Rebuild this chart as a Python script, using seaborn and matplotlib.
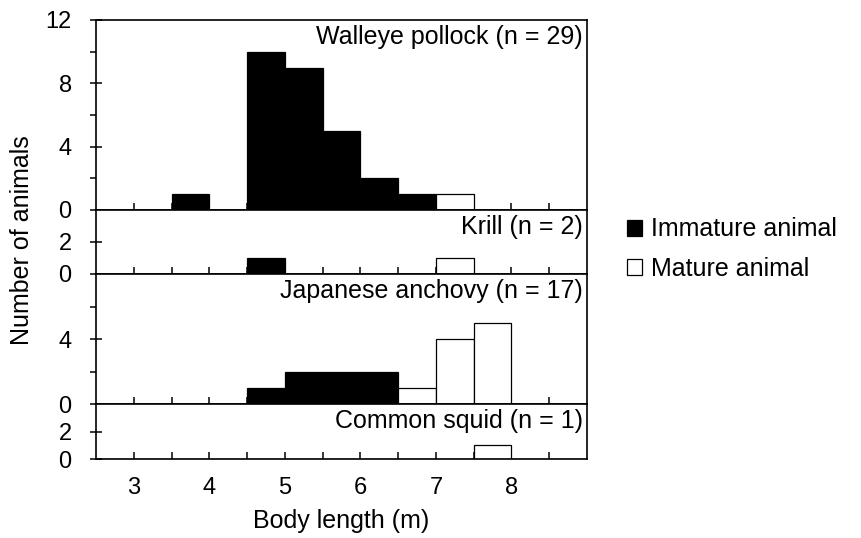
import numpy as np
import pandas as pd
import matplotlib
matplotlib.use('Agg')
import matplotlib.pyplot as plt
from matplotlib.patches import Patch
from matplotlib.ticker import FixedLocator
import seaborn as sns

# Data: bin centres (m) and counts, per species and maturity stage
species = ['Walleye pollock (n = 29)', 'Krill (n = 2)',
           'Japanese anchovy (n = 17)', 'Common squid (n = 1)']

pollock_imm_len = [3.75, 4.75, 5.25, 5.75, 6.25, 6.75]
pollock_imm_n = [1, 10, 9, 5, 2, 1]
pollock_mat_len = [7.25]
pollock_mat_n = [1]

krill_imm_len = [4.75]
krill_imm_n = [1]
krill_mat_len = [7.25]
krill_mat_n = [1]

anchovy_imm_len = [4.75, 5.25, 5.75, 6.25]
anchovy_imm_n = [1, 2, 2, 2]
anchovy_mat_len = [6.75, 7.25, 7.75]
anchovy_mat_n = [1, 4, 5]

squid_imm_len = []
squid_imm_n = []
squid_mat_len = [7.75]
squid_mat_n = [1]

stages = ['Immature animal', 'Mature animal']
stage_colors = {'Immature animal': 'black', 'Mature animal': 'white'}

rows = []
groups = [
    (species[0], pollock_imm_len, pollock_imm_n, pollock_mat_len, pollock_mat_n),
    (species[1], krill_imm_len, krill_imm_n, krill_mat_len, krill_mat_n),
    (species[2], anchovy_imm_len, anchovy_imm_n, anchovy_mat_len, anchovy_mat_n),
    (species[3], squid_imm_len, squid_imm_n, squid_mat_len, squid_mat_n),
]
for sp, il, inn, ml, mn in groups:
    for x, n in zip(il, inn):
        rows.append((sp, x, n, stages[0]))
    for x, n in zip(ml, mn):
        rows.append((sp, x, n, stages[1]))
df = pd.DataFrame(rows, columns=['species', 'length', 'count', 'stage'])

# panel y ranges and ticks
ylims = [12, 4, 8, 4]
major_ticks = [[0, 4, 8, 12], [0, 2], [0, 4], [0, 2]]
minor_ticks = [[2, 6, 10], [], [2, 6], []]

sns.set_style('ticks')
plt.rcParams['font.family'] = ['Liberation Sans', 'DejaVu Sans']
for k in ['text.color', 'axes.labelcolor', 'xtick.color', 'ytick.color',
          'axes.edgecolor']:
    plt.rcParams[k] = 'black'

fig = plt.figure(figsize=(8.61, 5.38), dpi=100)
gs = fig.add_gridspec(4, 1, height_ratios=[190, 64, 130, 55], hspace=0,
                      left=96 / 861, right=587 / 861,
                      top=1 - 20 / 538, bottom=1 - 459 / 538)

xt = np.arange(3, 8.6, 0.5)
xt_labels = [str(int(v)) if v == int(v) else '' for v in xt]

axes = []
for i, sp in enumerate(species):
    ax = fig.add_subplot(gs[i])
    axes.append(ax)
    sub = df[df['species'] == sp]
    for st in stages:
        d = sub[sub['stage'] == st]
        if len(d) == 0:
            continue
        sns.histplot(data=d, x='length', weights='count', binwidth=0.5,
                     binrange=(2.5, 9), color=stage_colors[st],
                     edgecolor='black', linewidth=0.9, alpha=1, ax=ax)
    ax.set_xlim(2.5, 9)
    ax.set_ylim(0, ylims[i])
    ax.set_xlabel('')
    ax.set_ylabel('')
    ax.yaxis.set_major_locator(FixedLocator(major_ticks[i]))
    ax.yaxis.set_minor_locator(FixedLocator(minor_ticks[i]))
    ax.tick_params(axis='y', which='major', direction='inout', length=9,
                   width=1.1, labelsize=17, pad=13)
    ax.tick_params(axis='y', which='minor', direction='out', length=4.5,
                   width=1.1)
    ax.xaxis.set_major_locator(FixedLocator(xt))
    ax.tick_params(axis='x', which='major', direction='in', length=5,
                   width=1.1, labelsize=17, pad=13)
    if i == 3:
        ax.set_xticklabels(xt_labels)
    else:
        ax.set_xticklabels([])
    for s in ax.spines.values():
        s.set_visible(True)
        s.set_linewidth(1.2)
    ax.annotate(sp, xy=(1, 1), xycoords='axes fraction', xytext=(-3, -12.5),
                textcoords='offset points', ha='right', va='center',
                fontsize=18)

axes[-1].set_xlabel('Body length (m)', fontsize=18, labelpad=7)
fig.text(22 / 861, 1 - 240 / 538, 'Number of animals', rotation=90,
         ha='center', va='center', fontsize=18)

handles = [Patch(facecolor=stage_colors[s], edgecolor='black', linewidth=0.9)
           for s in stages]
fig.legend(handles=handles, labels=stages, loc='center left',
           bbox_to_anchor=(627 / 861, 1 - 249 / 538), frameon=False,
           handlelength=0.6, handleheight=0.6, handletextpad=0.35,
           labelspacing=0.6, borderpad=0, borderaxespad=0, fontsize=18)

fig.savefig('out.png', dpi=100)
